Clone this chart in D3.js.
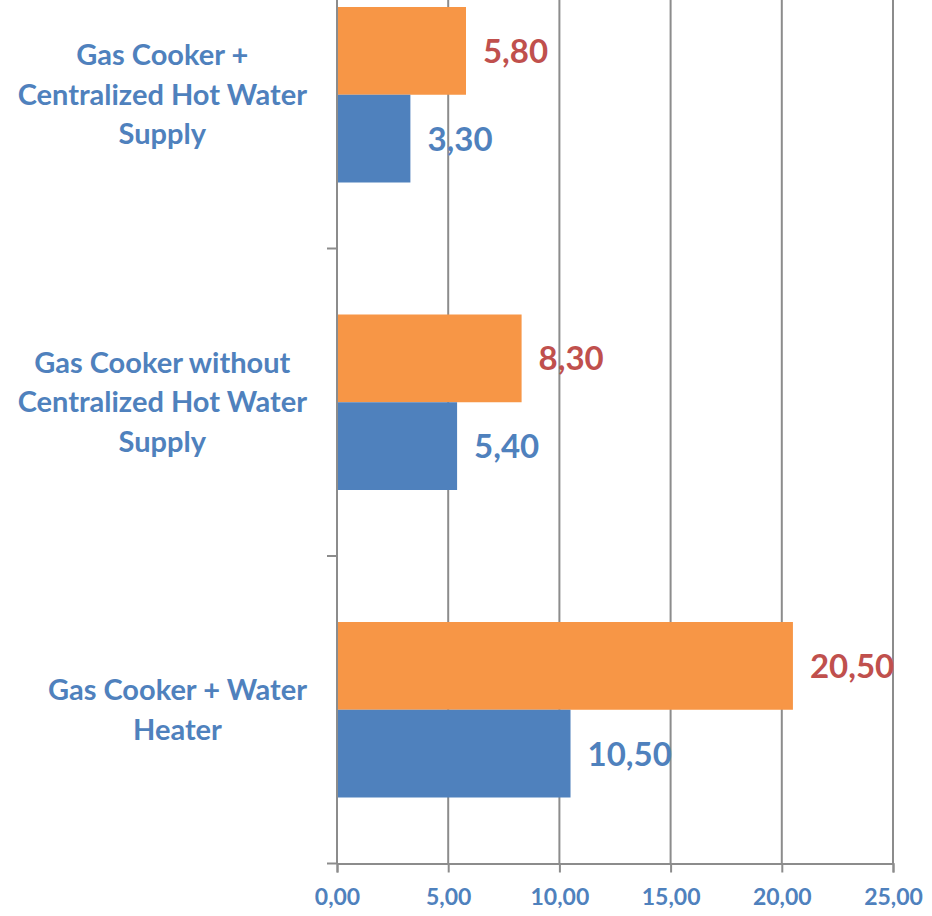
<!DOCTYPE html>
<html>
<head>
<meta charset="utf-8">
<script src="https://cdn.jsdelivr.net/npm/d3@7"></script>
<style>
  body { margin: 0; background: #fff; }
  text { font-family: Lato, "Open Sans", sans-serif; font-weight: bold; }
</style>
</head>
<body>
<div id="chart"></div>
<script>
// Chart data
var categories = [
  ["Gas Cooker +", "Centralized Hot Water", "Supply"],
  ["Gas Cooker without", "Centralized Hot Water", "Supply"],
  ["Gas Cooker + Water", "Heater"]
];
var seriesNames = ["orange", "blue"];
var orangeValues = [5.8, 8.3, 20.5];
var blueValues = [3.3, 5.4, 10.5];
var xTicks = [0, 5, 10, 15, 20, 25];

var svgWidth = 932;
var svgHeight = 916;

// plot area (the top of the plot is cropped off in the reference)
var plotLeft = 337, plotRight = 893;
var plotTop = -59, plotBottom = 863.5;

var fmt = d3.formatLocale({ decimal: ",", thousands: ".", grouping: [3], currency: ["", ""] }).format(".2f");

var svg = d3.select("#chart")
  .append("svg")
  .attr("width", svgWidth)
  .attr("height", svgHeight);

var xScale = d3.scaleLinear()
  .domain([0, 25])
  .range([plotLeft, plotRight]);

var yScale = d3.scaleBand()
  .domain(d3.range(categories.length))
  .range([plotTop, plotBottom])
  .padding(0);

var gap = 66;
var inner = d3.scaleBand()
  .domain(seriesNames)
  .range([gap, yScale.bandwidth() - gap])
  .padding(0);

// Gridlines
svg.append("g")
  .selectAll("line")
  .data(xTicks.slice(1))
  .enter()
  .append("line")
  .attr("x1", d => xScale(d))
  .attr("x2", d => xScale(d))
  .attr("y1", 0)
  .attr("y2", plotBottom)
  .attr("stroke", "#8c8c8c")
  .attr("stroke-width", 2);

// Bars
var rows = categories.map((c, i) => ({ i: i, orange: orangeValues[i], blue: blueValues[i] }));
var colors = { orange: "#F79646", blue: "#4F81BD" };
var labelColors = { orange: "#C0504D", blue: "#4F81BD" };

seriesNames.forEach(function(s) {
  svg.append("g")
    .selectAll("rect")
    .data(rows)
    .enter()
    .append("rect")
    .attr("x", xScale(0))
    .attr("y", d => yScale(d.i) + inner(s))
    .attr("width", d => xScale(d[s]) - xScale(0))
    .attr("height", inner.bandwidth())
    .attr("fill", colors[s]);

  svg.append("g")
    .selectAll("text")
    .data(rows)
    .enter()
    .append("text")
    .attr("x", d => xScale(d[s]) + 17)
    .attr("y", d => yScale(d.i) + inner(s) + inner.bandwidth() / 2)
    .attr("dy", "0.36em")
    .attr("font-size", "33px")
    .attr("fill", labelColors[s])
    .text(d => fmt(d[s]));
});

// Y axis line and ticks
svg.append("line")
  .attr("x1", plotLeft).attr("x2", plotLeft)
  .attr("y1", 0).attr("y2", plotBottom)
  .attr("stroke", "#8c8c8c").attr("stroke-width", 2);

svg.append("g")
  .selectAll("line")
  .data(d3.range(1, categories.length + 1))
  .enter()
  .append("line")
  .attr("x1", plotLeft - 10).attr("x2", plotLeft)
  .attr("y1", d => plotTop + d * yScale.step())
  .attr("y2", d => plotTop + d * yScale.step())
  .attr("stroke", "#8c8c8c").attr("stroke-width", 2);

// X axis
var xAxis = svg.append("g")
  .attr("transform", `translate(0, ${plotBottom})`)
  .call(d3.axisBottom(xScale).tickValues(xTicks).tickSize(9).tickPadding(16).tickFormat(fmt));
xAxis.select(".domain").attr("stroke", "#8c8c8c").attr("stroke-width", 2);
xAxis.selectAll(".tick line").attr("stroke", "#8c8c8c").attr("stroke-width", 2);
xAxis.selectAll(".tick text")
  .attr("font-family", "Lato")
  .attr("font-size", "23px")
  .attr("fill", "#4F81BD");

// Category labels (multi-line, centred in their block, block right-aligned)
var lineH = 39.5;
categories.forEach(function(lines, i) {
  var g = svg.append("g");
  var texts = lines.map(function(l) {
    return g.append("text")
      .attr("font-size", "29px")
      .attr("fill", "#4F81BD")
      .attr("text-anchor", "middle")
      .text(l);
  });
  var maxW = d3.max(texts, t => t.node().getComputedTextLength());
  var cx = 307 - maxW / 2;
  var cy = yScale(i) + yScale.bandwidth() / 2;
  var y0 = cy - (lines.length - 1) * lineH / 2;
  texts.forEach(function(t, k) {
    t.attr("x", cx).attr("y", y0 + k * lineH).attr("dy", "0.35em");
  });
});
</script>
</body>
</html>
